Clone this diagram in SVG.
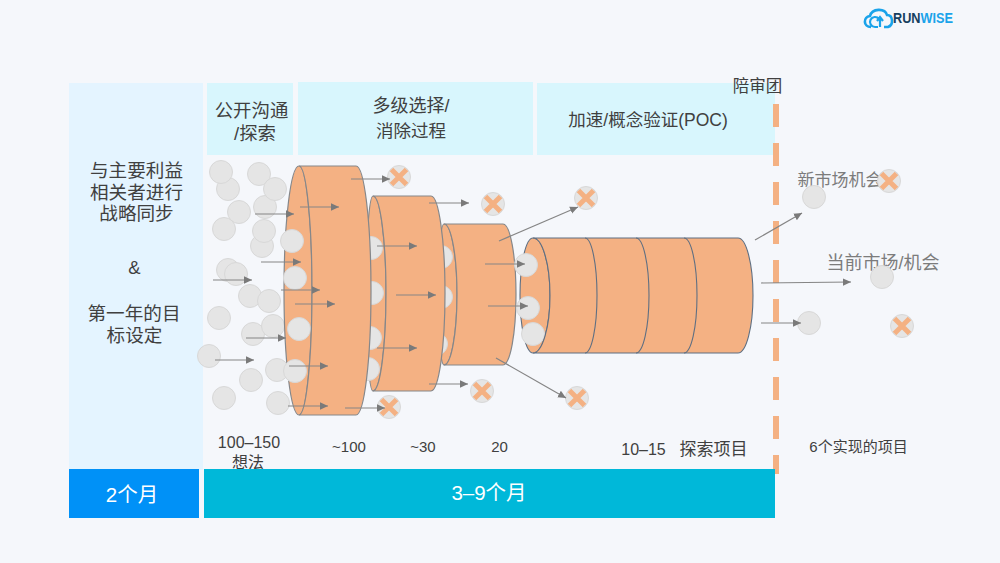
<svg xmlns="http://www.w3.org/2000/svg" width="1000" height="563" viewBox="0 0 1000 563">
<style>
text{font-family:"Liberation Sans","Noto Sans CJK SC",sans-serif;fill:#404040;text-anchor:middle;font-size:17.5px}
.h{font-size:18.400px}
.b{font-size:16px}
.g{fill:#7c7c7c;font-size:17.500px}
.w{fill:#fff;font-size:20.500px}
.cyl{fill:#f4b183;stroke:#85878a;stroke-width:1.2}
.cyl4{fill:#f4b183;stroke:#5f6f82;stroke-width:1.1}
.div{fill:none;stroke:#5f6f82;stroke-width:1.1}
.c{fill:#e5e5e5;stroke:#d8d8d8;stroke-width:1}
.x{stroke:#f4b183;stroke-width:5;fill:none}
.a{stroke:#858585;stroke-width:1.2;fill:none;marker-end:url(#ah)}
</style>
<defs>
<marker id="ah" markerUnits="userSpaceOnUse" markerWidth="9" markerHeight="9" refX="8" refY="4.500" orient="auto"><path d="M0,0.800 L8,4.500 L0,8.200Z" fill="#7a7a7a"/></marker>
<circle id="k" r="11.500" class="c"/>
<g id="kx"><circle r="11.500" class="c"/><path class="x" d="M-7.500,-7.500 L7.500,7.500 M7.500,-7.500 L-7.500,7.500"/></g>
</defs>
<rect width="1000" height="563" fill="#f5f7fb"/>
<g id="panels">
<rect x="69" y="83" width="134" height="387" fill="#e4f4ff"/>
<rect x="207" y="83" width="86" height="72" fill="#d8f6fd"/>
<rect x="298" y="82" width="235" height="73" fill="#d8f6fd"/>
<rect x="537" y="83" width="238" height="72" fill="#d8f6fd"/>
</g>
<g id="labels-top">
<text class="h" x="251.500" y="117">公开沟通</text><text class="h" x="255" y="140">/探索</text>
<text x="411" y="112" style="font-size:18px">多级选择/</text><text x="411" y="137">消除过程</text>
<text x="648" y="126">加速/概念验证(POC)</text>
<text x="757.500" y="92" style="font-size:16.500px">陪审团</text>
</g>
<g id="strategy">
<text class="h" x="136.500" y="176.500" style="font-size:18.600px">与主要利益</text><text class="h" x="136.500" y="198.500" style="font-size:18.600px">相关者进行</text><text class="h" x="136.500" y="219.500" style="font-size:18.600px">战略同步</text>
<text class="h" x="134.500" y="274">&amp;</text>
<text class="h" x="134" y="319.500" style="font-size:18.600px">第一年的目</text><text class="h" x="134.500" y="341.500" style="font-size:18.600px">标设定</text>
</g>
<path id="gate" d="M776,104 V474" stroke="#f4b183" stroke-width="6" stroke-dasharray="23 16" fill="none"/>
<g id="ideas">
<use href="#k" x="228" y="189"/><use href="#k" x="221" y="172"/><use href="#k" x="259" y="174"/><use href="#k" x="265" y="207"/><use href="#k" x="275" y="189"/><use href="#k" x="239" y="212"/><use href="#k" x="224" y="229"/><use href="#k" x="262" y="246"/><use href="#k" x="264" y="231"/><use href="#k" x="228" y="270"/><use href="#k" x="236" y="274"/><use href="#k" x="250" y="296"/><use href="#k" x="269" y="301"/><use href="#k" x="219" y="318"/><use href="#k" x="253" y="334"/><use href="#k" x="273" y="326"/><use href="#k" x="209" y="356"/><use href="#k" x="277" y="370"/><use href="#k" x="251" y="380"/><use href="#k" x="224" y="398"/><use href="#k" x="278" y="403"/>
</g>
<g id="stage3">
<path class="cyl" d="M444,224 A6,70.500 0 0 0 444,365 A13,70.500 0 0 0 444,224Z"/>
<use href="#k" x="441" y="257"/><use href="#k" x="441" y="297"/><use href="#k" x="436" y="344"/>
<path class="cyl" d="M444,224 H503 A13,70.500 0 0 1 503,365 H444 A13,70.500 0 0 0 444,224Z"/>
</g>
<g id="stage4">
<path class="cyl4" d="M533,238 A13,57.500 0 0 0 533,353 A17,57.500 0 0 0 533,238Z"/>
<use href="#k" x="526" y="265"/><use href="#k" x="528" y="308"/><use href="#k" x="533" y="334"/>
<path class="cyl4" d="M533,238 H738 A15,57.500 0 0 1 738,353 H533 A17,57.500 0 0 0 533,238Z"/>
<path class="div" d="M585,238 A12,57.500 0 0 1 585,353 M636,238 A13,57.500 0 0 1 636,353 M684,238 A13,57.500 0 0 1 684,353"/>
</g>
<g id="stage2">
<path class="cyl" d="M373,196 A7,97.500 0 0 0 373,391 A13,97.500 0 0 0 373,196Z"/>
<use href="#k" x="371" y="248"/><use href="#k" x="372" y="293"/><use href="#k" x="370" y="338"/><use href="#k" x="368" y="369"/>
<path class="cyl" d="M373,196 H431 A14,97.500 0 0 1 431,391 H373 A13,97.500 0 0 0 373,196Z"/>
</g>
<g id="stage1">
<path class="cyl" d="M299,166 A15,124.500 0 0 0 299,415 A13,124.500 0 0 0 299,166Z"/>
<use href="#k" x="292" y="241"/><use href="#k" x="295" y="278"/><use href="#k" x="299" y="329"/><use href="#k" x="295" y="371"/>
<path class="cyl" d="M299,166 H356 A15,124.500 0 0 1 356,415 H299 A13,124.500 0 0 0 299,166Z"/>
</g>
<g id="market-labels">
<text class="g" x="840" y="185.500" style="font-size:17px">新市场机会</text>
<text class="g" x="883" y="268.500" style="font-size:18px">当前市场/机会</text>
</g>
<g id="rejected">
<use href="#kx" x="399" y="177"/><use href="#kx" x="493" y="204"/><use href="#kx" x="389" y="407"/><use href="#kx" x="482" y="391"/><use href="#kx" x="586" y="198"/><use href="#kx" x="577" y="398"/><use href="#kx" x="889" y="181"/><use href="#kx" x="902" y="326"/>
</g>
<g id="outcomes">
<use href="#k" x="814" y="197"/><use href="#k" x="882" y="277"/><use href="#k" x="809" y="323"/>
</g>
<g id="connectors">
<path class="a" d="M351,179H390"/><path class="a" d="M300,207H339"/><path class="a" d="M255,214H294"/><path class="a" d="M261,262H301"/><path class="a" d="M213,280H252"/><path class="a" d="M281,290H320"/><path class="a" d="M295,304H335"/><path class="a" d="M246,338H286"/><path class="a" d="M215,360H254"/><path class="a" d="M289,366H328"/><path class="a" d="M288,406H328"/><path class="a" d="M345,408H385"/>
<path class="a" d="M429,203H469"/><path class="a" d="M377,246H417"/><path class="a" d="M396,295H436"/><path class="a" d="M377,348H417"/><path class="a" d="M429,384H468"/>
<path class="a" d="M485,264H525"/><path class="a" d="M488,306H528"/>
<path class="a" d="M499,241L578,207"/><path class="a" d="M496,358L566,398"/>
<path class="a" d="M755,240L802,213"/><path class="a" d="M761,283L851,282"/><path class="a" d="M761,323H801"/>
</g>
<g id="counts">
<text class="b" x="249" y="448">100–150</text><text class="b" x="248" y="468">想法</text>
<text class="b" x="349" y="451.500" style="font-size:15px">~100</text><text class="b" x="423" y="451.500" style="font-size:15px">~30</text><text class="b" x="499.500" y="451.500" style="font-size:15px">20</text>
<text class="b" x="643.500" y="455">10–15</text><text class="b" x="713.500" y="455" style="font-size:17px">探索项目</text>
<text class="b" x="858.500" y="451.500" style="font-size:15px">6个实现的项目</text>
</g>
<g id="timeline">
<rect x="69" y="469" width="130" height="49" fill="#0091f7"/>
<rect x="204" y="469" width="571" height="49" fill="#00b8d9"/>
<text class="w" x="132" y="501.500">2个月</text>
<text class="w" x="489" y="500">3–9个月</text>
</g>
<g id="logo">
<path d="M871,27 C863,27 863,17 870,16 C872,8 885,8 887,15 C893,15 894,25 888,27 H884" fill="none" stroke="#1aa3ea" stroke-width="2.600"/>
<path d="M878,27 H875 A5,5 0 1 1 879,19 M880,27 V18 M877,21 L880,17 L883,21" fill="none" stroke="#1aa3ea" stroke-width="2.200"/>
<text x="893" y="23" style="text-anchor:start;font-size:14px;font-weight:700;fill:#173f5f" textLength="60" lengthAdjust="spacingAndGlyphs">RUN<tspan style="fill:#1aa3ea">WISE</tspan></text>
</g>
</svg>
